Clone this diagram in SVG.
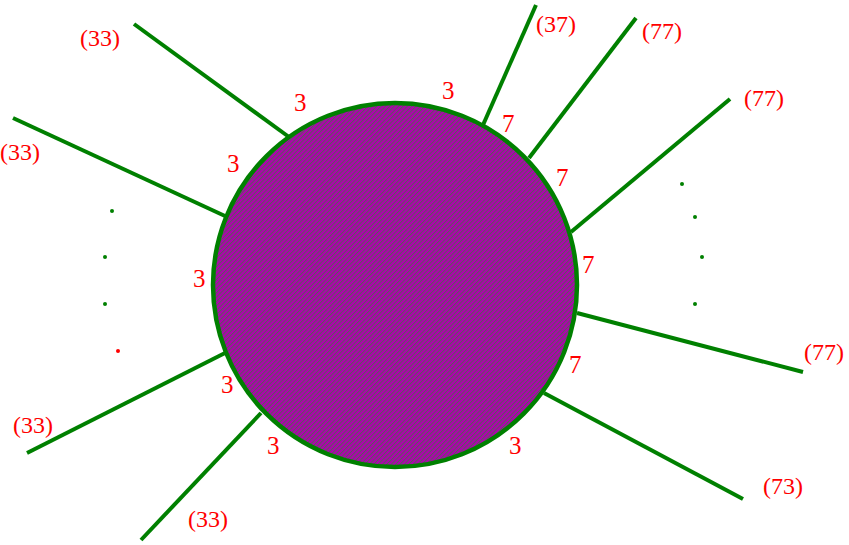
<svg xmlns="http://www.w3.org/2000/svg" width="849" height="545" viewBox="0 0 849 545">
<style>
.leg{stroke:#008000;stroke-width:4;fill:none}
.lbl{font-family:"Liberation Serif","Times New Roman",serif;font-size:25px;fill:#ff0000}
.ext{font-family:"Liberation Serif","Times New Roman",serif;font-size:24px;fill:#ff0000}
.dot{fill:#008000}
</style>
<defs>
<pattern id="hatch" patternUnits="userSpaceOnUse" width="3.1" height="3.1" patternTransform="rotate(45)">
<rect width="3.1" height="3.1" fill="#b000b0"/>
<rect x="0" y="0" width="1" height="3.1" fill="#5a5a5a"/>
</pattern>
</defs>
<g id="connectors">
<line class="leg" x1="134" y1="24" x2="289" y2="137"/>
<line class="leg" x1="13" y1="118" x2="225" y2="216"/>
<line class="leg" x1="225" y1="353" x2="27" y2="453"/>
<line class="leg" x1="261" y1="413" x2="141" y2="540"/>
<line class="leg" x1="483" y1="125" x2="536" y2="5"/>
<line class="leg" x1="529" y1="158" x2="636" y2="18"/>
<line class="leg" x1="571" y1="232" x2="730" y2="99"/>
<line class="leg" x1="577" y1="313" x2="803" y2="372"/>
<line class="leg" x1="544" y1="393" x2="743" y2="499"/>
</g>
<g id="blob">
<circle cx="395" cy="285" r="182" fill="url(#hatch)" stroke="#008000" stroke-width="4.5"/>
</g>
<g id="dots-left">
<circle class="dot" cx="112" cy="211" r="2"/>
<circle class="dot" cx="105" cy="257" r="2"/>
<circle class="dot" cx="105" cy="304" r="2"/>
<circle cx="118" cy="351" r="2" fill="#ff0000"/>
</g>
<g id="dots-right">
<circle class="dot" cx="682" cy="184" r="2"/>
<circle class="dot" cx="695" cy="217" r="2"/>
<circle class="dot" cx="702" cy="257" r="2"/>
<circle class="dot" cx="695" cy="304" r="2"/>
</g>
<g id="labels-inner">
<text class="lbl" x="294" y="111">3</text>
<text class="lbl" x="227" y="172">3</text>
<text class="lbl" x="193" y="287">3</text>
<text class="lbl" x="221" y="393">3</text>
<text class="lbl" x="267" y="454">3</text>
<text class="lbl" x="509" y="454">3</text>
<text class="lbl" x="442" y="99">3</text>
<text class="lbl" x="502" y="132">7</text>
<text class="lbl" x="556" y="186">7</text>
<text class="lbl" x="582" y="273">7</text>
<text class="lbl" x="569" y="373">7</text>
</g>
<g id="labels-outer">
<text class="ext" x="80" y="46">(33)</text>
<text class="ext" x="0" y="160">(33)</text>
<text class="ext" x="13" y="433">(33)</text>
<text class="ext" x="188" y="527">(33)</text>
<text class="ext" x="536" y="32">(37)</text>
<text class="ext" x="642" y="39">(77)</text>
<text class="ext" x="744" y="106">(77)</text>
<text class="ext" x="804" y="360">(77)</text>
<text class="ext" x="763" y="494">(73)</text>
</g>
</svg>
